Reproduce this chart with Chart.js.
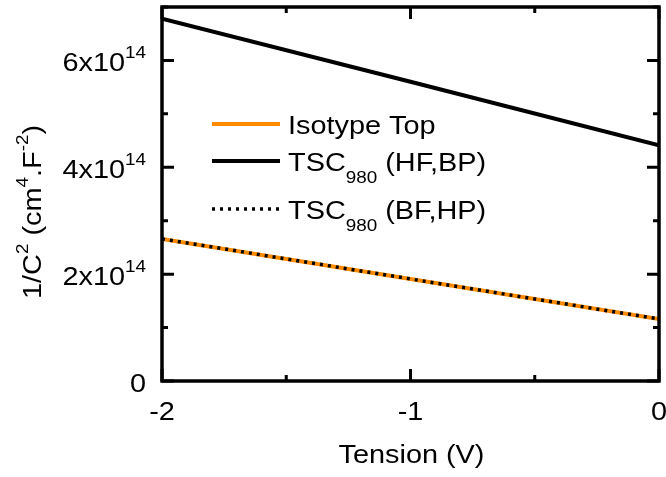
<!DOCTYPE html>
<html><head><meta charset="utf-8">
<script src="https://cdn.jsdelivr.net/npm/chart.js@4"></script>
<style>html,body{margin:0;padding:0;background:#fff}#wrap{width:666px;height:477px;position:relative}</style>
</head><body><div id="wrap"><canvas id="c" width="666" height="477"></canvas></div>
<script>
// ---- data ----
const voltages = [-2, -1, 0];
const isotypeTop = [2.66e14, 1.91e14, 1.16e14];
const tscHFBP = [6.78e14, 5.60e14, 4.41e14];
const tscBFHP = [2.66e14, 1.91e14, 1.16e14];
const seriesNames = ['Isotype Top', 'TSC_{980} (HF,BP)', 'TSC_{980} (BF,HP)'];
const xTitle = 'Tension (V)';
const yTitle = '1/C^{2} (cm^{4}.F^{-2})';
const xRange = [-2, 0];
const yRange = [0, 7e14];

const S = 1.11; // horizontal text stretch
const FONT = '"Liberation Sans", Arial, sans-serif';
const mainFont = '26px ' + FONT;
const smallFont = '17px ' + FONT;

function parse(str) {
  const segs = []; const re = /([_^])\{([^}]*)\}/g; let last = 0, m;
  while ((m = re.exec(str))) {
    if (m.index > last) segs.push({t: str.slice(last, m.index), k: 'n'});
    segs.push({t: m[2], k: m[1] === '^' ? 'sup' : 'sub'});
    last = re.lastIndex;
  }
  if (last < str.length) segs.push({t: str.slice(last), k: 'n'});
  return segs;
}
function drawRich(ctx, str, x, y, align) {
  const segs = parse(str);
  let W = 0;
  segs.forEach(s => { ctx.font = s.k === 'n' ? mainFont : smallFont; s.w = ctx.measureText(s.t).width * S; W += s.w; });
  let x0 = align === 'right' ? x - W : align === 'center' ? x - W / 2 : x;
  ctx.textAlign = 'left'; ctx.textBaseline = 'alphabetic'; ctx.fillStyle = '#000';
  segs.forEach(s => {
    ctx.font = s.k === 'n' ? mainFont : smallFont;
    const dy = s.k === 'sup' ? -13 : s.k === 'sub' ? 12 : 0;
    ctx.save(); ctx.translate(x0, y + dy); ctx.scale(S, 1); ctx.fillText(s.t, 0, 0); ctx.restore();
    x0 += s.w;
  });
}

const decor = {
  id: 'decor',
  afterDatasetsDraw(chart) {
    const ctx = chart.ctx, a = chart.chartArea, xs = chart.scales.x, ys = chart.scales.y;
    ctx.save();
    ctx.strokeStyle = '#000'; ctx.lineWidth = 3.5; ctx.lineCap = 'butt';
    ctx.strokeRect(a.left, a.top, a.right - a.left, a.bottom - a.top);
    ctx.lineWidth = 3;
    xs.ticks.forEach(t => {
      const px = xs.getPixelForValue(t.value);
      const major = Math.abs(t.value - Math.round(t.value)) < 1e-9;
      const len = major ? 12 : 6;
      ctx.beginPath();
      ctx.moveTo(px, a.bottom); ctx.lineTo(px, a.bottom - len);
      ctx.moveTo(px, a.top); ctx.lineTo(px, a.top + len);
      ctx.stroke();
      if (major) drawRich(ctx, String(t.value), px, a.bottom + 39, 'center');
    });
    ys.ticks.forEach(t => {
      const py = ys.getPixelForValue(t.value);
      const m = Math.round(t.value / 1e14);
      const major = m % 2 === 0;
      const len = major ? 12 : 6;
      ctx.beginPath();
      ctx.moveTo(a.left, py); ctx.lineTo(a.left + len, py);
      ctx.moveTo(a.right, py); ctx.lineTo(a.right - len, py);
      ctx.stroke();
      if (major) drawRich(ctx, m === 0 ? '0' : m + 'x10^{14}', a.left - 16, py + 10.7, 'right');
    });
    drawRich(ctx, xTitle, (a.left + a.right) / 2 + 1, 463, 'center');
    ctx.save(); ctx.translate(41, 212); ctx.rotate(-Math.PI / 2);
    drawRich(ctx, yTitle, 0, 0, 'center');
    ctx.restore();
    const rows = [124, 161, 209];
    chart.data.datasets.forEach((ds, i) => {
      const y = rows[i];
      ctx.save();
      ctx.strokeStyle = ds.borderColor; ctx.lineWidth = ds.borderWidth;
      ctx.setLineDash(ds.borderDash || []);
      ctx.beginPath(); ctx.moveTo(212, y); ctx.lineTo(280, y); ctx.stroke();
      ctx.restore();
      drawRich(ctx, seriesNames[i], 288, y + 10, 'left');
    });
    ctx.restore();
  }
};

const pts = arr => voltages.map((v, i) => ({x: v, y: arr[i]}));

new Chart(document.getElementById('c'), {
  type: 'line',
  data: {
    datasets: [
      {label: seriesNames[0], data: pts(isotypeTop), borderColor: '#ff8c00', borderWidth: 4, pointRadius: 0, order: 2, tension: 0},
      {label: seriesNames[1], data: pts(tscHFBP), borderColor: '#000000', borderWidth: 4, pointRadius: 0, order: 1, tension: 0},
      {label: seriesNames[2], data: pts(tscBFHP), borderColor: '#000000', borderWidth: 3.5, borderDash: [3, 5], pointRadius: 0, order: 0, tension: 0}
    ]
  },
  options: {
    responsive: false, animation: false, devicePixelRatio: 1,
    layout: {padding: {left: 162, right: 7, top: 7, bottom: 96}},
    plugins: {legend: {display: false}, tooltip: {enabled: false}},
    scales: {
      x: {type: 'linear', min: xRange[0], max: xRange[1], display: false, ticks: {stepSize: 0.5}},
      y: {type: 'linear', min: yRange[0], max: yRange[1], display: false, ticks: {stepSize: 1e14}}
    }
  },
  plugins: [decor]
});
</script>
</body></html>
